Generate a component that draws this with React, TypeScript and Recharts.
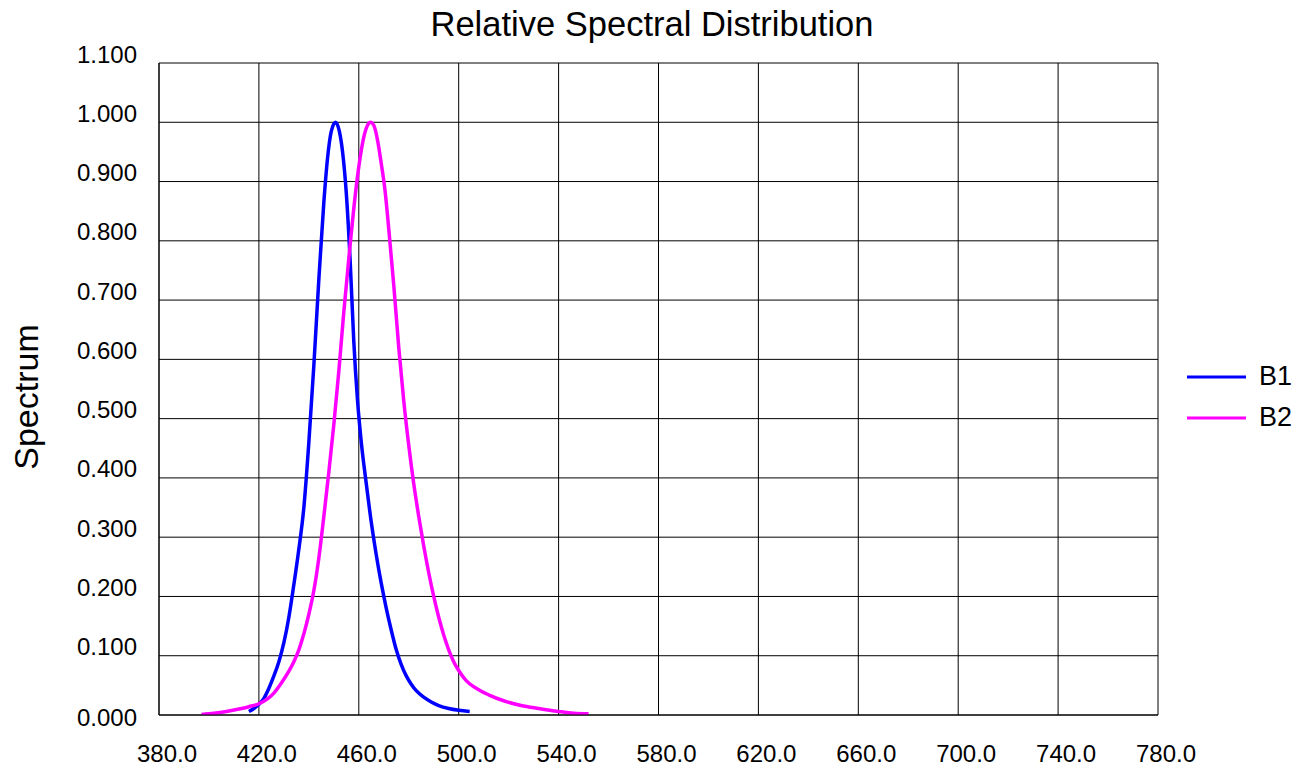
import React from 'react';
import { LineChart, Line, XAxis, YAxis, CartesianGrid, Legend } from 'recharts';

const wavelengthTicks = [380, 420, 460, 500, 540, 580, 620, 660, 700, 740, 780];
const spectrumTicks = [0, 0.1, 0.2, 0.3, 0.4, 0.5, 0.6, 0.7, 0.8, 0.9, 1.0, 1.1];

const b1Wavelength = [416, 418, 420, 422, 424, 426, 428, 430, 432, 434, 436, 438, 440, 442, 444, 446, 447.5, 449, 450.7, 452.2, 453.5, 455, 456.5, 458, 459.5, 461, 463, 465, 467, 469, 471, 473, 475, 477, 479, 481, 483, 486, 489, 492, 496, 500, 504.4];
const b1Value = [0.006, 0.011, 0.018, 0.028, 0.045, 0.066, 0.09, 0.122, 0.165, 0.22, 0.28, 0.35, 0.46, 0.59, 0.735, 0.865, 0.94, 0.985, 1.0, 0.985, 0.95, 0.88, 0.77, 0.63, 0.53, 0.46, 0.39, 0.325, 0.27, 0.222, 0.18, 0.143, 0.11, 0.085, 0.066, 0.052, 0.041, 0.03, 0.022, 0.016, 0.011, 0.008, 0.006];

const b2Wavelength = [397, 402, 407, 412, 416, 420, 423, 426, 429, 432, 434, 436, 438, 440, 442, 444, 446, 448, 450, 452, 454, 456, 458, 460, 462, 463.5, 464.7, 466, 467.5, 469, 470.5, 472, 474, 476, 478, 480, 482, 484, 486, 488, 490, 492, 494, 496, 498, 500, 503, 507, 512, 518, 525, 532, 540, 546, 552];
const b2Value = [0.001, 0.003, 0.006, 0.01, 0.014, 0.019, 0.026, 0.037, 0.054, 0.074, 0.09, 0.11, 0.137, 0.17, 0.21, 0.265, 0.335, 0.41, 0.49, 0.58, 0.68, 0.77, 0.855, 0.925, 0.975, 0.995, 1.0, 0.995, 0.97, 0.93, 0.885, 0.82, 0.725, 0.62, 0.53, 0.455, 0.39, 0.335, 0.285, 0.24, 0.2, 0.165, 0.135, 0.11, 0.09, 0.075, 0.058, 0.045, 0.034, 0.024, 0.016, 0.011, 0.006, 0.003, 0.002];

const b1Data = b1Wavelength.map((wl, i) => ({ wl, v: b1Value[i] }));
const b2Data = b2Wavelength.map((wl, i) => ({ wl, v: b2Value[i] }));

const FONT = '"Liberation Sans", Arial, sans-serif';

const YTick = (props: any) => {
  const { x, y, payload } = props;
  const val = payload.value as number;
  return (
    <text x={x} y={y} dy={val === 0 ? 11 : -0.5} textAnchor="end" fontSize={24} fontFamily={FONT} fill="#000">
      {val.toFixed(3)}
    </text>
  );
};

const XTick = (props: any) => {
  const { x, y, payload } = props;
  const val = payload.value as number;
  return (
    <text x={x + 8} y={y} dy={19} textAnchor="middle" fontSize={24} fontFamily={FONT} fill="#000">
      {val.toFixed(1)}
    </text>
  );
};

const LegendContent = (props: any) => {
  const { payload } = props;
  return (
    <div style={{ fontFamily: FONT }}>
      {(payload || []).map((entry: any) => (
        <div key={entry.value} style={{ display: 'flex', alignItems: 'center', height: 41 }}>
          <svg width={62} height={8} style={{ display: 'block' }}>
            <line x1={1} y1={4} x2={60} y2={4} stroke={entry.color} strokeWidth={3} />
          </svg>
          <span style={{ marginLeft: 11, fontSize: 27, color: '#000', lineHeight: '27px' }}>{entry.value}</span>
        </div>
      ))}
    </div>
  );
};

export default function App() {
  return (
    <div style={{ position: 'absolute', left: 0, top: 0, width: 1309, height: 767, background: '#fff' }}>
      <div
        style={{
          position: 'absolute',
          left: 652 - 400,
          width: 800,
          top: 7,
          textAlign: 'center',
          fontFamily: FONT,
          fontSize: 34.5,
          lineHeight: '34px',
          color: '#000',
          zIndex: 2,
        }}
      >
        Relative Spectral Distribution
      </div>
      <LineChart width={1309} height={767} margin={{ top: 63, right: 151, bottom: 0, left: 0 }}>
        <CartesianGrid stroke="#000" strokeWidth={1} />
        <XAxis
          type="number"
          dataKey="wl"
          domain={[380, 780]}
          ticks={wavelengthTicks}
          interval={0}
          allowDataOverflow
          height={52}
          tickSize={0}
          tickMargin={28}
          tickLine={false}
          axisLine={{ stroke: '#000' }}
          tick={<XTick />}
        />
        <YAxis
          type="number"
          domain={[0, 1.1]}
          ticks={spectrumTicks}
          interval={0}
          allowDataOverflow
          width={159}
          tickSize={0}
          tickMargin={22}
          tickLine={false}
          axisLine={{ stroke: '#000' }}
          tick={<YTick />}
          label={{
            value: 'Spectrum',
            angle: -90,
            position: 'center',
            dx: -54,
            dy: 8,
            style: { fontSize: 34, fontFamily: FONT, fill: '#000', textAnchor: 'middle' },
          }}
        />
        <Legend
          layout="horizontal"
          verticalAlign="middle"
          align="center"
          content={<LegendContent />}
          wrapperStyle={{ left: 1186, top: 356, width: 120, height: 82 }}
        />
        <Line
          data={b1Data}
          dataKey="v"
          name="B1"
          type="monotone"
          stroke="#0000FF"
          strokeWidth={3.5}
          dot={false}
          activeDot={false}
          isAnimationActive={false}
        />
        <Line
          data={b2Data}
          dataKey="v"
          name="B2"
          type="monotone"
          stroke="#FF00FF"
          strokeWidth={3.5}
          dot={false}
          activeDot={false}
          isAnimationActive={false}
        />
      </LineChart>
    </div>
  );
}
